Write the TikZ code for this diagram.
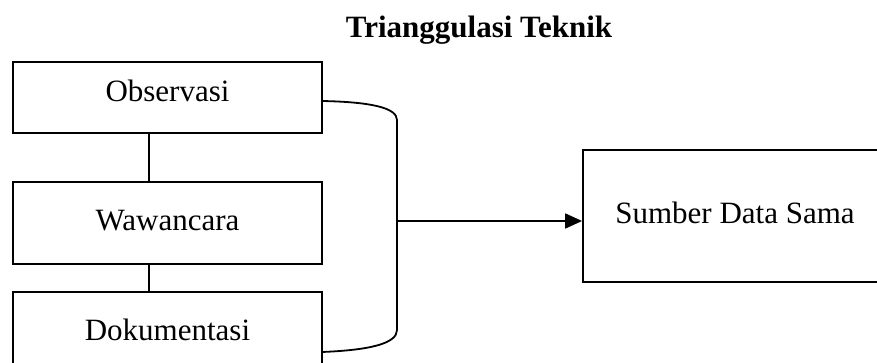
\documentclass[tikz,border=0pt]{standalone}
\usepackage{fontspec}
\setmainfont{Liberation Serif}
\usetikzlibrary{arrows.meta}
\begin{document}
\begin{tikzpicture}[x=1pt,y=-1pt,
  boxshape/.style={draw=black,line width=1.8pt,inner sep=0pt},
  lbl/.style={anchor=base,inner sep=0pt,font=\fontsize{31}{36}\selectfont},
  conn/.style={line width=1.8pt}]
\useasboundingbox (0,0) rectangle (877,363);
\clip (0,0) rectangle (877,363);
\node[lbl,font=\fontsize{31}{36}\selectfont\bfseries] (title) at (479,38) {Trianggulasi Teknik};
% boxes
\node[boxshape,minimum width=309pt,minimum height=71pt] (obs) at (167.5,97.5) {};
\node[boxshape,minimum width=309pt,minimum height=82pt] (waw) at (167.5,223) {};
\node[boxshape,minimum width=309pt,minimum height=80pt] (dok) at (167.5,332) {};
\node[boxshape,minimum width=310pt,minimum height=132pt] (sum) at (738,216) {};
% labels
\node[lbl] (tobs) at (167.5,102) {Observasi};
\node[lbl] (twaw) at (167.5,230) {Wawancara};
\node[lbl] (tdok) at (167.5,340) {Dokumentasi};
\node[lbl] (tsum) at (735,223) {Sumber Data Sama};
% vertical connectors
\coordinate (c1) at (149,133);
\draw[conn] (obs.south -| c1) -- (waw.north -| c1);
\draw[conn] (waw.south -| c1) -- (dok.north -| c1);
% bracket
\coordinate (b1) at (322,101);
\coordinate (b2) at (397,120);
\coordinate (b3) at (397,330);
\coordinate (b4) at (322,352);
\coordinate (bm) at (397,221);
\draw[conn] (b1) .. controls (372,102) and (397,108) .. (b2) -- (b3) .. controls (397,343) and (372,350) .. (b4);
\draw[conn,-{Triangle[length=17pt,width=15pt]}] (bm) -- (sum.west |- bm);
\end{tikzpicture}
\end{document}
